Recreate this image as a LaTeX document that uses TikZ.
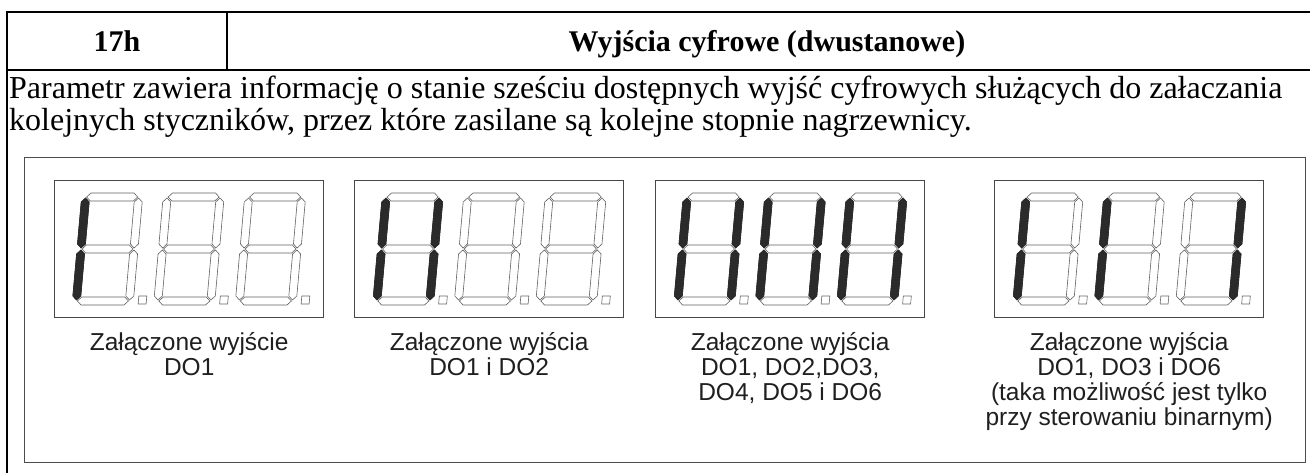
\documentclass[tikz,border=0pt]{standalone}
\usepackage{fontspec}
\setmainfont{Liberation Serif}
\newfontfamily\labelfont{Liberation Sans}

\tikzset{
  tablerule/.style={line width=2.6pt, draw=black},
  framebox/.style={draw=black!70, line width=1.4pt, inner sep=0pt, anchor=north west},
  panelbox/.style={draw=black!72, line width=1.4pt, inner sep=0pt, anchor=north west,
                   minimum width=269pt, minimum height=137pt},
  segoff/.style={draw=black!62, line width=0.6pt, fill=white, line join=miter},
  segon/.style={draw=black!85, line width=0.6pt, fill=black!83, line join=miter},
  dotseg/.style={draw=black!60, line width=0.6pt},
  headtext/.style={font=\fontsize{30}{34}\selectfont\bfseries, inner sep=0pt, anchor=base},
  bodytext/.style={font=\fontsize{32}{32}\selectfont, inner sep=0pt, anchor=base west},
  caption/.style={font=\labelfont\fontsize{24.5}{25}\selectfont, align=center, anchor=north,
                  inner sep=0pt, text=black!88},
}

% one hexagonal segment, horizontal or vertical: style, from, to, centre line
\newcommand\hseg[4]{\path[#1] (#2,#4) -- (#2+4,#4-4) -- (#3-4,#4-4) -- (#3,#4) -- (#3-4,#4+4) -- (#2+4,#4+4) -- cycle;}
\newcommand\vseg[4]{\path[#1] (#4,#2) -- (#4+4,#2+4) -- (#4+4,#3-4) -- (#4,#3) -- (#4-4,#3-4) -- (#4-4,#2+4) -- cycle;}
% the seven segments of one digit (local units, y downwards)
\newcommand\segA[1]{\hseg{#1}{5}{56}{4}}
\newcommand\segG[1]{\hseg{#1}{5}{56}{56}}
\newcommand\segD[1]{\hseg{#1}{5}{56}{108}}
\newcommand\segF[1]{\vseg{#1}{5}{55}{4}}
\newcommand\segB[1]{\vseg{#1}{5}{55}{57}}
\newcommand\segE[1]{\vseg{#1}{57}{107}{4}}
\newcommand\segC[1]{\vseg{#1}{57}{107}{57}}
% a slanted seven-segment digit with its decimal point; #2 lists the lit segments
\newcommand\ssdigit[2]{%
  \begin{scope}[shift={#1}, xslant=0.089]
    \foreach \s in {A,B,C,D,E,F,G} {\csname seg\s\endcsname{segoff}}
    \foreach \s in {#2} {\csname seg\s\endcsname{segon}}
    \path[dotseg] (66,103) rectangle (74,111);
  \end{scope}}

\begin{document}
\begin{tikzpicture}[x=1pt, y=-1pt]
  \useasboundingbox (0,0) rectangle (1310,473);

  % table rules
  \draw[tablerule] (1312,12) -- (7,12) -- (7,476);
  \draw[tablerule] (7,70) -- (1312,70);
  \draw[tablerule] (227,12) -- (227,70);

  % header cells
  \node[headtext] (code) at (117,52) {17h};
  \node[headtext] (title) at (767,52) {Wyjścia cyfrowe (dwustanowe)};

  % description
  \node[bodytext] (desc1) at (9,99) {Parametr zawiera informację o stanie sześciu dostępnych wyjść cyfrowych służących do załaczania};
  \node[bodytext] (desc2) at (9,131) {kolejnych styczników, przez które zasilane są kolejne stopnie nagrzewnicy.};

  % picture frame
  \node[framebox, minimum width=1281pt, minimum height=305pt] (frame) at (24,157) {};

  % display panels
  \node[panelbox] (p1) at (54,180) {};
  \node[panelbox] (p2) at (354,180) {};
  \node[panelbox] (p3) at (655,180) {};
  \node[panelbox] (p4) at (994,180) {};

  % digits
  \ssdigit{(82,193)}{E,F}
  \ssdigit{(163.5,193)}{}
  \ssdigit{(245,193)}{}

  \ssdigit{(382.5,193)}{B,C,E,F}
  \ssdigit{(464,193)}{}
  \ssdigit{(545.5,193)}{}

  \ssdigit{(683.5,193)}{B,C,E,F}
  \ssdigit{(765,193)}{B,C,E,F}
  \ssdigit{(846.5,193)}{B,C,E,F}

  \ssdigit{(1022.5,193)}{E,F}
  \ssdigit{(1104,193)}{E,F}
  \ssdigit{(1185.5,193)}{B,C}

  % captions
  \node[caption] (c1) at (p1.south |- 0,332) {Załączone wyjście\\DO1};
  \node[caption] (c2) at (p2.south |- 0,332) {Załączone wyjścia\\DO1 i DO2};
  \node[caption] (c3) at (p3.south |- 0,332) {Załączone wyjścia\\DO1, DO2,DO3,\\DO4, DO5 i DO6};
  \node[caption] (c4) at (p4.south |- 0,332) {Załączone wyjścia\\DO1, DO3 i DO6\\(taka możliwość jest tylko\\przy sterowaniu binarnym)};
\end{tikzpicture}
\end{document}
